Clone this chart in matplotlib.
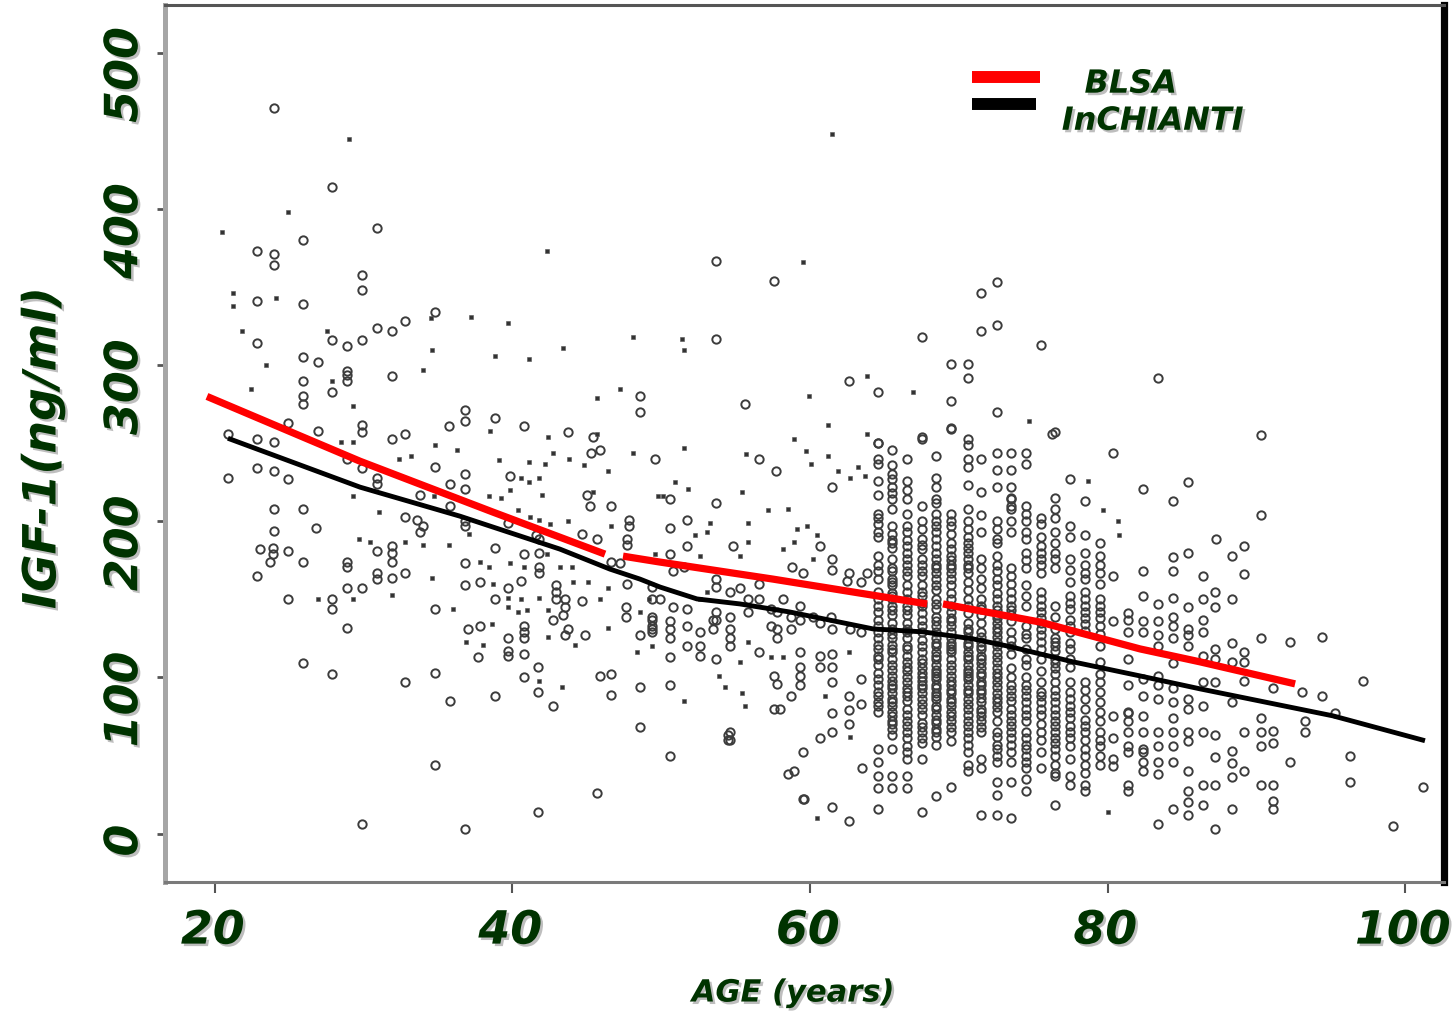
import numpy as np
import matplotlib
matplotlib.use("Agg")
import matplotlib.pyplot as plt
import matplotlib.patheffects as pe
from matplotlib.lines import Line2D
from matplotlib.transforms import blended_transform_factory, ScaledTranslation

# ---------------- data ----------------
# small dot-like points (age, IGF-1)
dot_age = [29.0,24.9,20.5,42.3,21.2,21.2,24.1,34.5,37.2,39.7,21.8,27.5,34.6,43.4,48.1,38.8,41.1,23.4,34.0,27.9,22.4,29.3,47.2,45.7,45.7,42.4,28.5,29.3,34.8,38.5,
           36.3,39.1,41.1,42.2,42.7,43.8,44.8,48.1,32.4,33.2,40.6,41.8,41.1,39.8,42.0,38.4,39.2,45.4,46.4,49.8,29.3,34.7,40.4,31.0,41.2,41.8,42.5,43.7,46.6,37.1,
           29.7,30.4,32.8,34.0,35.7,42.3,37.8,38.4,39.8,40.8,43.2,44.0,34.6,38.7,44.1,45.1,46.4,26.9,29.3,31.9,39.7,40.6,41.8,45.9,49.2,36.0,39.7,40.4,41.0,42.4,
           48.6,38.6,42.4,46.4,36.9,38.0,44.2,48.4,49.4,41.8,43.3,
           61.5,59.5,51.4,51.5,63.8,66.9,59.9,74.7,61.2,58.9,63.8,
           51.5,55.7,59.7,60.1,61.2,61.9,62.7,63.2,63.7,78.7,79.7,80.7,80.8,50.9,51.8,55.4,50.1,53.3,55.8,57.2,58.5,53.1,55.3,55.8,52.3,52.6,49.6,58.2,58.9,
           59.1,59.8,60.5,60.2,53.1,52.6,55.3,55.8,57.4,58.2,62.6,51.5,53.9,54.3,55.4,55.6,61.0,62.7,60.5,80.0]
dot_igf = [445,398,385,373,346,338,343,330,331,327,322,322,310,311,318,306,304,300,297,290,285,274,285,279,256,254,251,251,249,258,
           246,239,238,237,244,240,236,244,240,242,228,228,225,220,217,216,215,219,232,216,216,216,207,206,203,201,198,200,197,192,
           189,187,187,185,185,179,174,171,173,171,171,171,164,160,161,161,157,150,150,153,151,150,151,150,150,144,145,142,143,143,
           142,134,126,132,123,121,121,116,120,98,94,
           448,366,317,310,293,283,280,264,262,253,256,
           247,243,245,237,242,232,228,235,229,226,207,200,191,225,221,219,216,199,199,207,208,193,178,187,191,178,179,182,187,
           195,197,191,176,155,150,110,123,113,113,116,85,101,94,90,82,88,62,10,14]

# open-circle points, scattered (age, IGF-1)
circ_age = [24.0,27.9,30.9,25.9,22.8,24.0,24.0,29.9,29.9,22.8,25.9,34.8,32.8,31.9,30.9,27.9,28.9,29.9,22.8,25.9,26.9,28.9,28.9,28.9,31.9,25.9,27.9,25.9,25.9,48.6,
            48.6,36.8,36.8,35.7,38.8,40.8,43.7,29.9,29.9,32.8,31.9,26.9,24.9,22.8,24.0,20.9,
            45.3,45.9,49.6,45.4,28.9,29.9,34.8,22.8,24.0,24.9,20.9,30.9,30.9,36.8,36.8,35.8,39.8,45.0,33.8,45.2,46.6,24.0,25.9,35.8,32.8,33.6,34.0,36.8,36.8,39.7,
            47.8,47.8,24.0,26.8,33.8,41.6,41.8,44.7,45.7,47.7,47.7,23.0,23.9,23.9,24.9,23.7,25.9,22.8,30.9,31.9,31.9,31.9,28.9,28.9,38.8,40.8,41.8,36.8,41.8,41.8,
            46.6,47.2,30.9,30.9,31.9,32.8,28.9,29.9,36.8,37.8,39.7,40.6,42.9,42.9,42.9,47.7,49.4,24.9,27.9,27.9,38.8,43.5,43.5,44.7,34.8,42.7,43.4,47.6,47.6,49.4,
            49.4,28.9,37.0,37.8,40.8,40.8,40.8,39.7,43.7,43.5,44.9,48.6,37.7,39.7,39.7,40.8,41.7,25.9,27.9,32.8,34.8,40.8,45.9,46.6,48.6,35.8,38.8,41.7,42.7,46.6,
            48.6,34.8,45.7,41.7,29.9,36.8,
            50.6,54.5,54.5,58.0,58.9,59.6,62.6,61.5,
            53.7,57.6,72.6,71.5,72.6,71.5,53.7,67.5,75.5,69.5,70.6,70.6,62.6,64.6,55.6,69.5,72.6,76.3,64.6,67.5,69.5,70.6,70.6,
            83.4,90.3,
            80.4,82.4,85.4,84.4,90.3,87.3,89.2,88.4,85.4,84.4,84.4,82.4,86.4,89.2,80.4,87.2,87.2,88.4,86.4,85.4,84.4,84.4,84.4,84.4,83.4,83.4,83.4,83.4,82.4,82.4,
            82.4,81.4,80.4,85.4,85.4,85.4,86.4,86.4,90.3,92.3,94.4,88.4,89.2,89.2,87.2,87.2,86.4,84.4,88.4,97.2,93.1,94.4,95.3,91.1,87.2,86.4,89.2,88.4,85.4,85.4,
            86.4,84.4,84.4,84.4,84.4,83.4,83.4,83.4,83.4,83.4,83.4,83.4,82.4,82.4,82.4,82.4,82.4,82.4,81.4,81.4,81.4,81.4,80.4,80.4,80.4,80.4,90.3,90.3,90.3,90.3,
            91.1,91.1,91.1,91.1,91.1,93.3,93.3,92.3,96.3,96.3,101.2,99.2,89.2,89.2,88.4,88.4,88.4,88.4,87.2,87.2,87.2,87.2,86.4,86.4,86.4,85.4,85.4,85.4,85.4,85.4,
            85.4,84.4,84.4,84.4,83.4,82.4,82.4,81.4,
            56.6,57.7,61.5,53.7,50.6,51.7,50.6,54.8,51.7,51.5,50.8,50.6,60.7,61.5,61.5,62.6,62.5,58.8,59.5,63.4,63.8,56.6,56.6,53.7,53.7,54.6,55.3,49.4,49.9,50.8,
            51.7,53.7,53.7,54.6,54.6,55.8,55.8,57.4,57.4,58.2,58.7,58.7,59.3,59.3,60.2,60.7,61.4,61.5,62.7,63.4,49.4,49.4,49.4,50.6,50.6,50.6,50.6,51.7,51.7,52.6,
            52.6,52.6,53.5,53.5,54.6,54.6,53.7,56.6,57.8,57.8,57.8,59.3,59.3,59.3,59.3,60.7,60.7,61.5,61.5,61.5,63.4,50.6,57.6,57.8,57.6,58.7,61.5,62.6,62.6,62.6,
            63.4,54.6,54.6,59.5,60.7,61.5,58.5,59.5,63.5]
circ_igf = [465,414,388,380,373,371,364,358,348,341,339,334,328,322,324,316,312,316,314,305,302,290,294,296,293,290,283,280,275,280,
            270,271,264,261,266,261,257,262,257,256,253,258,263,253,251,256,
            244,246,240,254,240,234,235,234,232,227,228,228,224,230,221,224,229,217,217,210,210,208,208,210,203,201,197,200,197,199,
            201,197,194,196,193,191,189,192,189,189,185,182,183,179,181,174,174,165,181,184,180,174,174,171,183,179,180,173,171,167,
            174,173,167,163,164,167,157,157,159,161,157,162,159,155,150,160,158,150,150,144,150,150,145,149,144,137,140,145,139,137,
            131,132,131,133,133,129,125,125,131,127,127,127,113,114,117,115,107,109,102,97,103,100,101,102,94,85,88,91,82,89,
            68,44,26,14,6,3,
            50,63,60,80,40,22,8,17,
            367,354,353,346,326,322,317,318,313,301,301,292,290,283,275,277,270,256,250,253,260,253,249,
            292,255,
            244,221,225,213,204,189,184,178,180,177,168,168,165,166,165,155,145,150,150,145,151,139,133,125,147,136,127,120,152,136,
            129,137,136,131,127,120,137,129,125,123,126,122,116,110,118,112,114,109,110,98,91,88,77,93,97,97,98,84,86,80,
            82,93,84,74,65,101,95,86,65,56,46,38,99,88,75,65,54,46,77,72,31,27,75,61,48,43,74,65,56,31,
            66,58,31,21,16,72,65,46,50,33,30,5,65,40,53,45,36,16,63,49,31,3,65,31,18,65,59,40,27,20,
            12,56,46,16,6,52,40,52,
            240,232,222,212,214,201,196,184,184,171,168,179,184,176,169,167,162,171,167,161,167,160,150,163,158,155,157,150,150,145,
            144,142,137,139,131,150,142,144,133,150,139,131,146,137,139,135,139,131,131,129,139,133,129,136,131,125,113,133,120,129,
            120,114,137,131,120,125,112,116,142,131,125,116,107,101,95,114,107,115,107,97,99,95,101,96,80,88,77,88,79,70,
            83,65,60,52,61,65,38,22,42]

# dense columns of open circles in the 65-81 year range
col_age = [64.6, 65.5, 66.5, 67.5, 68.5, 69.5, 70.6, 71.5, 72.6, 73.5, 74.5, 75.5, 76.5, 77.5, 78.5, 79.5, 81.4]
col_igf = [
    [250,240,237,226,217,202,193,178,172,146,142,137,129,125,118,114,108,103,99,95,88,82,54,46,37,29,16,
     205,198,190,168,163,155,150,133,121,112,91,84,78],
    [246,236,230,222,214,208,197,188,183,176,170,163,159,154,150,146,140,135,125,121,116,112,108,101,95,90,86,82,78,72,67,54,37,29,
     227,218,192,186,168,161,152,143,131,128,118,105,98,93,84,75,70,63],
    [240,220,214,197,193,184,180,172,165,159,150,146,140,135,129,125,120,114,110,104,97,91,85,76,72,65,56,52,48,37,29,
     226,205,188,176,168,155,143,131,118,107,100,93,88,80,69,61],
    [254,210,195,189,182,176,172,165,159,152,146,141,137,129,116,112,106,103,95,90,86,80,76,71,65,48,14,
     200,185,168,155,148,133,124,120,109,100,98,93,83,68,61,58],
    [242,214,212,197,193,189,184,180,176,172,167,163,159,150,144,139,133,129,125,120,116,112,108,103,99,95,90,86,82,76,71,67,62,24,
     228,222,205,200,170,156,147,136,122,114,105,101,93,88,80,73,65,57],
    [259,197,192,186,182,172,167,163,159,154,146,142,133,129,125,120,116,112,108,101,95,90,86,82,78,72,65,59,30,
     205,200,178,175,170,150,138,136,122,118,105,98,92,84,75,68],
    [223,208,195,180,176,172,167,161,146,135,129,125,120,116,112,108,103,99,95,90,86,80,76,72,65,61,57,52,44,40,
     240,235,200,190,186,183,170,156,150,141,131,122,114,105,101,92,83,69],
    [240,219,204,193,163,157,150,140,135,129,123,118,112,106,101,95,90,84,78,72,65,48,42,12,
     176,170,146,144,126,120,114,109,103,97,92,87,80,75,68],
    [244,233,222,189,186,172,163,159,154,146,140,135,129,123,116,110,103,97,90,84,78,72,65,57,50,33,25,12,
     200,195,178,168,150,143,138,132,126,120,113,106,100,94,87,81,62,54,46],
    [244,233,222,214,208,200,193,165,155,146,140,129,120,95,88,80,72,65,57,33,10,
     215,210,170,160,150,143,136,124,115,106,100,92,85,76,69,61,52,46],
    [244,237,200,193,189,170,159,152,146,133,125,118,95,88,80,72,65,57,50,42,35,27,
     210,205,180,175,128,112,108,100,92,84,76,61,54,46],
    [202,198,184,176,167,150,142,135,127,118,91,84,76,65,52,42,
     190,180,172,155,146,138,131,123,112,104,97,88,80,70,60],
    [257,202,193,186,176,170,146,139,131,125,120,112,106,97,88,80,72,65,58,50,37,18,
     215,208,180,123,117,109,102,92,84,76,69,61,54,44,39],
    [227,197,169,161,144,137,129,122,112,97,86,78,69,61,48,37,31,
     190,176,152,148,133,118,107,91,82,74,65,56],
    [213,191,167,163,155,146,138,130,97,86,73,65,54,44,31,27,
     180,172,150,142,134,92,80,69,60,50,39],
    [186,178,167,150,142,133,120,97,91,78,65,56,44,
     172,160,146,138,128,110,102,84,72,60,50],
    [141,129,112,95,78,65,56],
]

# smoothed trend lines (gaps as in the original figure)
blsa_age = [19.46, 29.75, 38.69, 46.22, np.nan, 47.43, 49.92, 57.51, 67.87, np.nan, 68.94, 75.46, 82.18, 86.22, 92.61]
blsa_igf = [280.0, 238.5, 205.9, 179.0, np.nan, 177.7, 173.9, 163.0, 147.1, np.nan, 147.1, 135.5, 118.3, 110.0, 95.9]
inch_age = [20.87, 29.75, 36.47, 43.19, 46.55, 48.57, 49.92, 52.40, 55.29, 58.66, 64.24, 67.60, 70.96, 73.24, 77.68, 82.18, 86.22, 95.16, 101.34]
inch_igf = [253.2, 221.9, 203.3, 182.2, 169.4, 163.0, 157.9, 150.3, 147.1, 141.9, 131.1, 129.2, 124.7, 120.2, 110.0, 101.0, 92.7, 75.4, 59.5]

x_ticks = [20, 40, 60, 80, 100]
y_ticks = [0, 100, 200, 300, 400, 500]
series_labels = ["BLSA", "InCHIANTI"]
x_label = "AGE (years)"
y_label = "IGF-1(ng/ml)"

# ---------------- figure ----------------
GREEN = "#003300"
shadow = [pe.SimplePatchShadow(offset=(1.8, -1.8), shadow_rgbFace="#8a8a8a", alpha=0.55), pe.Normal()]
font = dict(family="DejaVu Sans", weight="bold", style="italic", color=GREEN)

fig = plt.figure(figsize=(14.55, 10.11), dpi=100)
ax = fig.add_axes([165/1455, (1011-882)/1011, (1444-165)/1455, (882-5)/1011])
ax.set_xlim(16.64, 102.62)
ax.set_ylim(-31, 530.7)

# points
cx = list(circ_age)
cy = list(circ_igf)
for a, vals in zip(col_age, col_igf):
    cx += [a] * len(vals)
    cy += vals
ax.plot(cx, cy, linestyle="none", marker="o", ms=6.0, mfc="none", mec="#3c3c3c", mew=1.4, zorder=2)
ax.plot(dot_age, dot_igf, linestyle="none", marker="s", ms=2.6, mfc="#333333", mec="#555555", mew=0.4, zorder=2)

# trend lines
ax.plot(inch_age, inch_igf, color="black", lw=3.5, zorder=4, solid_capstyle="butt")
ax.plot(blsa_age, blsa_igf, color="#ff0000", lw=5.2, zorder=5, solid_capstyle="butt")

# spines
ax.spines["left"].set_color("#a6a6a6"); ax.spines["left"].set_linewidth(3.6)
ax.spines["top"].set_color("#555555"); ax.spines["top"].set_linewidth(2.2)
ax.spines["bottom"].set_color("#7a7a7a"); ax.spines["bottom"].set_linewidth(2.2)
ax.spines["right"].set_color("black"); ax.spines["right"].set_linewidth(5.2)

# ticks (labels drawn as text with shadow)
ax.set_xticks(x_ticks)
ax.set_yticks(y_ticks)
ax.set_xticklabels([])
ax.set_yticklabels([])
ax.tick_params(axis="x", direction="out", length=8, width=1.5, color="#555555")
ax.tick_params(axis="y", direction="out", length=6, width=2.0, color="#555555")

tx = blended_transform_factory(ax.transData, ax.transAxes)
for v in x_ticks:
    t = ax.text(v - 0.15, -0.056, str(v), transform=tx, ha="center", va="center", fontsize=33, **font)
    t.set_path_effects(shadow)

ty = blended_transform_factory(ax.transAxes, ax.transData)
for v in y_ticks:
    dy = -0.07 if v == 0 else -0.22
    off = ScaledTranslation(0, dy, fig.dpi_scale_trans)
    t = ax.text(-0.0315, v, str(v), transform=ty + off, ha="center", va="center",
                rotation=90, fontsize=33, **font)
    t.set_path_effects(shadow)

t = ax.text(-0.0954, 0.495, y_label, transform=ax.transAxes, ha="center", va="center",
            rotation=90, fontsize=33, **font)
t.set_path_effects(shadow)
t = ax.text(0.491, -0.1266, x_label, transform=ax.transAxes, ha="center", va="center",
            fontsize=22, **font)
t.set_path_effects(shadow)

# legend keys and labels
ax.add_line(Line2D([0.6307, 0.6839], [0.9177, 0.9177], transform=ax.transAxes, color="#ff0000",
                   lw=8.6, solid_capstyle="butt"))
ax.add_line(Line2D([0.6307, 0.6808], [0.8869, 0.8869], transform=ax.transAxes, color="black",
                   lw=8.6, solid_capstyle="butt"))
t = ax.text(0.7551, 0.9097, series_labels[0], transform=ax.transAxes, ha="center", va="center",
            fontsize=23, **font)
t.set_path_effects(shadow)
t = ax.text(0.7723, 0.8674, series_labels[1], transform=ax.transAxes, ha="center", va="center",
            fontsize=23, **font)
t.set_path_effects(shadow)

fig.savefig("out.png", dpi=100, facecolor="white")
